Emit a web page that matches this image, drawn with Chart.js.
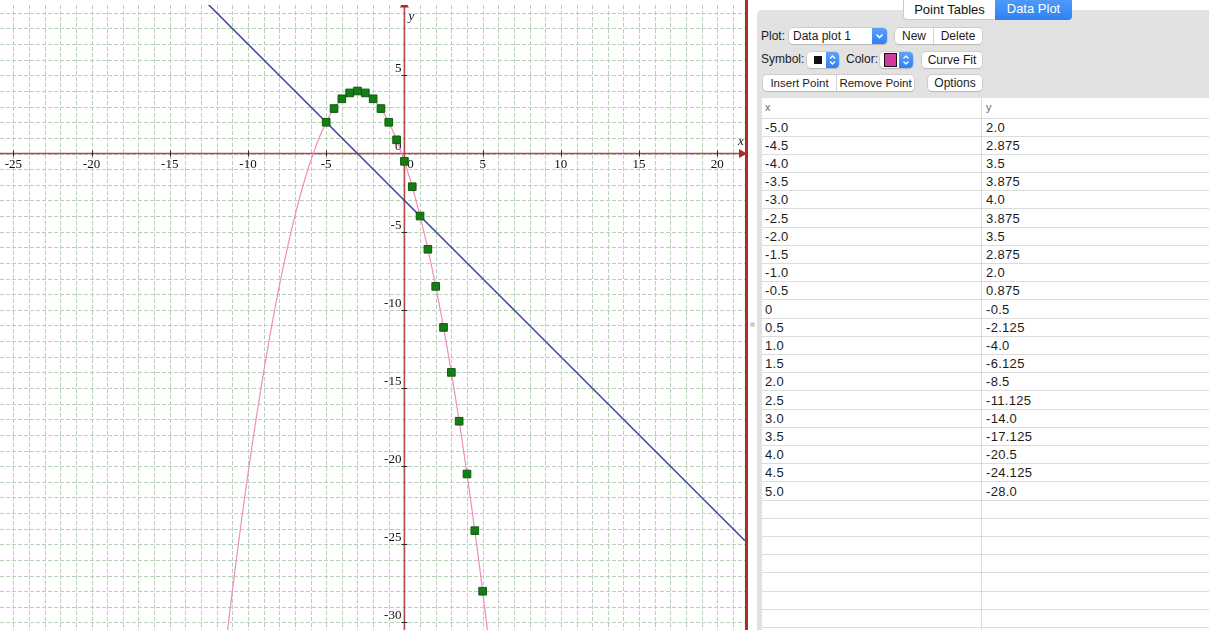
<!DOCTYPE html>
<html>
<head>
<meta charset="utf-8">
<script src="https://cdn.jsdelivr.net/npm/chart.js@4.4.1/dist/chart.umd.min.js"></script>
<style>
  html, body { margin: 0; padding: 0; background: #fff; width: 1209px; height: 630px; overflow: hidden;
    font-family: "Liberation Sans", Arial, sans-serif; color: #1c1c1c; }
  #plot { position: absolute; left: 0; top: 0; width: 745px; height: 630px; }
  #edge { position: absolute; left: 745px; top: 0; width: 3px; height: 630px; background: #a9302b; }
  #grip { position: absolute; left: 750px; top: 322px; width: 5px; height: 5px; border-radius: 50%; background: #cdcdcd; }
  #panel { position: absolute; left: 757px; top: 10px; width: 452px; height: 620px; background: #e2e2e2; border-top-left-radius: 5px; }
  .tab { position: absolute; top: 0; height: 20px; line-height: 20px; font-size: 13px; text-align: center; }
  #tabA { left: 903px; width: 91px; background: #fff; border: 1px solid #c9c9c9; border-top: none; border-bottom-left-radius: 4px; color: #111; height: 19px; line-height: 19px; }
  #tabB { left: 995px; width: 77px; background: linear-gradient(#4f9af8, #2f80f3); color: #fff; border-bottom-right-radius: 4px; line-height: 17px; }
  .lbl { position: absolute; font-size: 12px; height: 16px; line-height: 16px; color: #1c1c1c; }
  .btn { position: absolute; background: #fff; border-radius: 4px; height: 16px; line-height: 16px; font-size: 12px;
    box-shadow: 0 0 0 0.5px #b9b9b9, 0 1px 1px rgba(0,0,0,0.18); text-align: center; color: #1c1c1c; }
  .seg { position: absolute; top: 0; height: 16px; text-align: center; }
  .segdiv { position: absolute; top: 0; width: 1px; height: 16px; background: #d2d2d2; }
  .blue { position: absolute; top: 0; height: 16px; background: linear-gradient(#5da2f8, #2f80f3); border-top-right-radius: 4px; border-bottom-right-radius: 4px; }
  #table { position: absolute; left: 762px; top: 98px; width: 447px; height: 532px; background: #fff; overflow: hidden; }
  .row { position: absolute; left: 0; width: 447px; border-bottom: 1px solid #dcdcdc; box-sizing: border-box; font-size: 13px; letter-spacing: 0.3px; }
  .cx { position: absolute; left: 3px; }
  .cy { position: absolute; left: 224px; }
  #coldiv { position: absolute; left: 219px; top: 0; width: 1px; height: 532px; background: #dcdcdc; }
</style>
</head>
<body>
<div id="plot"><canvas id="c" width="745" height="630"></canvas></div>
<div id="edge"></div>
<div id="grip"></div>
<div id="panel"></div>
<div class="tab" id="tabA">Point Tables</div>
<div class="tab" id="tabB">Data Plot</div>

<div class="lbl" style="left:761px;top:28px;">Plot:</div>
<div class="btn" style="left:789px;top:28px;width:98px;text-align:left;">
  <span style="position:absolute;left:4px;">Data plot 1</span>
  <div class="blue" style="left:83px;width:15px;">
    <svg width="15" height="16" viewBox="0 0 15 16"><path d="M4.5 6.5 L7.5 9.5 L10.5 6.5" stroke="#fff" stroke-width="1.6" fill="none"/></svg>
  </div>
</div>
<div class="btn" style="left:895px;top:28px;width:87px;">
  <div class="seg" style="left:0;width:38px;">New</div>
  <div class="segdiv" style="left:38px;"></div>
  <div class="seg" style="left:39px;width:48px;">Delete</div>
</div>

<div class="lbl" style="left:761px;top:51px;">Symbol:</div>
<div class="btn" style="left:807px;top:52px;width:32px;">
  <div style="position:absolute;left:7px;top:4px;width:8px;height:8px;background:#111;"></div>
  <div class="blue" style="left:19px;width:13px;">
    <svg width="13" height="16" viewBox="0 0 13 16"><path d="M4 6.5 L6.5 4 L9 6.5 M4 9.5 L6.5 12 L9 9.5" stroke="#fff" stroke-width="1.3" fill="none"/></svg>
  </div>
</div>
<div class="lbl" style="left:846px;top:51px;">Color:</div>
<div class="btn" style="left:880px;top:52px;width:33px;">
  <div style="position:absolute;left:4px;top:1px;width:11px;height:12px;background:#d23a9c;border:1px solid #111;"></div>
  <div class="blue" style="left:19px;width:14px;">
    <svg width="14" height="16" viewBox="0 0 14 16"><path d="M4.5 6.5 L7 4 L9.5 6.5 M4.5 9.5 L7 12 L9.5 9.5" stroke="#fff" stroke-width="1.3" fill="none"/></svg>
  </div>
</div>
<div class="btn" style="left:922px;top:52px;width:60px;">Curve Fit</div>

<div class="btn" style="left:763px;top:75px;width:151px;font-size:11.5px;">
  <div class="seg" style="left:0;width:73px;">Insert Point</div>
  <div class="segdiv" style="left:73px;"></div>
  <div class="seg" style="left:74px;width:77px;">Remove Point</div>
</div>
<div class="btn" style="left:928px;top:75px;width:54px;">Options</div>

<div id="table"><div id="coldiv"></div></div>

<script>
// Data plot 1: the tabulated points
const pointX = [-5.0, -4.5, -4.0, -3.5, -3.0, -2.5, -2.0, -1.5, -1.0, -0.5, 0, 0.5, 1.0, 1.5, 2.0, 2.5, 3.0, 3.5, 4.0, 4.5, 5.0];
const pointY = [2.0, 2.875, 3.5, 3.875, 4.0, 3.875, 3.5, 2.875, 2.0, 0.875, -0.5, -2.125, -4.0, -6.125, -8.5, -11.125, -14.0, -17.125, -20.5, -24.125, -28.0];

// Straight line through two of the plotted points
const lineX = [-5, 1];
const lineY = [2, -4];

// Axis labels
const xTickLabels = [-25, -20, -15, -10, -5, 0, 5, 10, 15, 20];
const yTickLabels = [5, 0, -5, -10, -15, -20, -25, -30];

// Visible window of the graph
const xRange = [-25.85, 21.77];
const yRange = [-30.48, 9.50];

// Least-squares polynomial fit (Curve Fit)
function polyFit(xs, ys, deg) {
  const n = deg + 1;
  const A = Array.from({ length: n }, () => new Array(n + 1).fill(0));
  for (let k = 0; k < xs.length; k++) {
    for (let i = 0; i < n; i++) {
      for (let j = 0; j < n; j++) A[i][j] += Math.pow(xs[k], i + j);
      A[i][n] += ys[k] * Math.pow(xs[k], i);
    }
  }
  for (let i = 0; i < n; i++) {
    let p = i;
    for (let r = i + 1; r < n; r++) if (Math.abs(A[r][i]) > Math.abs(A[p][i])) p = r;
    [A[i], A[p]] = [A[p], A[i]];
    for (let r = 0; r < n; r++) {
      if (r === i) continue;
      const f = A[r][i] / A[i][i];
      for (let c = i; c <= n; c++) A[r][c] -= f * A[i][c];
    }
  }
  return A.map((row, i) => row[n] / row[i]);
}
const fit = polyFit(pointX, pointY, 2);
const evalFit = (v) => fit.reduce((s, c, i) => s + c * Math.pow(v, i), 0);

const axisRed = '#b24848';

const graphPaper = {
  id: 'graphPaper',
  beforeDatasetsDraw(chart) {
    const { ctx, chartArea: a, scales: { x, y } } = chart;
    ctx.save();
    ctx.beginPath();
    ctx.rect(a.left, a.top, a.right - a.left, a.bottom - a.top);
    ctx.clip();

    // dashed grid, one line per unit
    ctx.strokeStyle = '#b7d1b7';
    ctx.lineWidth = 1;
    ctx.setLineDash([4, 2]);
    for (let v = Math.ceil(x.min); v <= Math.floor(x.max); v++) {
      const px = Math.round(x.getPixelForValue(v)) + 0.5;
      ctx.beginPath(); ctx.moveTo(px, a.top); ctx.lineTo(px, a.bottom); ctx.stroke();
    }
    for (let v = Math.ceil(y.min); v <= Math.floor(y.max); v++) {
      const py = Math.round(y.getPixelForValue(v)) + 0.5;
      ctx.beginPath(); ctx.moveTo(a.left, py); ctx.lineTo(a.right, py); ctx.stroke();
    }
    ctx.setLineDash([]);

    const x0 = x.getPixelForValue(0);
    const y0 = y.getPixelForValue(0);

    // axes
    ctx.strokeStyle = axisRed;
    ctx.lineWidth = 1.6;
    ctx.beginPath(); ctx.moveTo(a.left, y0); ctx.lineTo(a.right - 6, y0); ctx.stroke();
    ctx.beginPath(); ctx.moveTo(x0, a.bottom); ctx.lineTo(x0, a.top); ctx.stroke();

    // arrow heads
    ctx.fillStyle = '#b0282a';
    ctx.beginPath();
    ctx.moveTo(a.right - 6, y0 - 4.5); ctx.lineTo(a.right + 2, y0); ctx.lineTo(a.right - 6, y0 + 4.5);
    ctx.closePath(); ctx.fill();
    ctx.beginPath();
    ctx.moveTo(x0 - 4.5, a.top + 2.5); ctx.lineTo(x0, a.top - 6); ctx.lineTo(x0 + 4.5, a.top + 2.5);
    ctx.closePath(); ctx.fill();

    // tick marks
    ctx.strokeStyle = '#2a2a2a';
    ctx.lineWidth = 1;
    xTickLabels.forEach(v => {
      if (v === 0) return;
      const px = Math.round(x.getPixelForValue(v)) + 0.5;
      ctx.beginPath(); ctx.moveTo(px, y0 - 3); ctx.lineTo(px, y0 + 3); ctx.stroke();
    });
    yTickLabels.forEach(v => {
      if (v === 0) return;
      const py = Math.round(y.getPixelForValue(v)) + 0.5;
      ctx.beginPath(); ctx.moveTo(x0 - 3, py); ctx.lineTo(x0 + 3, py); ctx.stroke();
    });

    // tick labels
    ctx.fillStyle = '#111';
    ctx.font = '13px "Liberation Serif", "DejaVu Serif", serif';
    ctx.textAlign = 'center';
    ctx.textBaseline = 'middle';
    xTickLabels.forEach(v => {
      const px = x.getPixelForValue(v) + (v === 0 ? 6 : 0);
      ctx.fillText(String(v), px, y0 + 11);
    });
    ctx.textAlign = 'right';
    yTickLabels.forEach(v => {
      ctx.fillText(String(v), x0 - 3, y.getPixelForValue(v) - 6.5);
    });

    // axis names
    ctx.font = 'italic 13px "Liberation Serif", "DejaVu Serif", serif';
    ctx.textAlign = 'center';
    ctx.fillText('x', a.right - 4, y0 - 12);
    ctx.fillText('y', x0 + 7, a.top + 12);

    // fitted parabola
    ctx.strokeStyle = '#f18dbd';
    ctx.lineWidth = 1.2;
    ctx.beginPath();
    for (let px = a.left; px <= a.right; px += 0.5) {
      const py = y.getPixelForValue(evalFit(x.getValueForPixel(px)));
      if (px === a.left) ctx.moveTo(px, py); else ctx.lineTo(px, py);
    }
    ctx.stroke();

    // straight line, extended across the window
    const slope = (lineY[1] - lineY[0]) / (lineX[1] - lineX[0]);
    const lineAt = (v) => lineY[0] + slope * (v - lineX[0]);
    ctx.strokeStyle = '#3a45a0';
    ctx.lineWidth = 1.5;
    ctx.beginPath();
    ctx.moveTo(x.getPixelForValue(x.min), y.getPixelForValue(lineAt(x.min)));
    ctx.lineTo(x.getPixelForValue(x.max), y.getPixelForValue(lineAt(x.max)));
    ctx.stroke();

    ctx.restore();
  }
};

new Chart(document.getElementById('c'), {
  type: 'scatter',
  data: {
    datasets: [{
      label: 'Data plot 1',
      data: pointX.map((v, i) => ({ x: v, y: pointY[i] })),
      pointStyle: 'rect',
      pointRadius: 5.4,
      backgroundColor: '#167c16',
      borderColor: '#0c5f0c',
      borderWidth: 1
    }]
  },
  options: {
    responsive: false,
    devicePixelRatio: 1,
    animation: false,
    events: [],
    layout: { autoPadding: false, padding: { top: 5, left: 0, right: 0, bottom: 0 } },
    plugins: { legend: { display: false }, tooltip: { enabled: false } },
    scales: {
      x: { type: 'linear', min: xRange[0], max: xRange[1], display: false },
      y: { type: 'linear', min: yRange[0], max: yRange[1], display: false }
    }
  },
  plugins: [graphPaper]
});

// Point table
const fmt = (v) => v === 0 ? '0' : (Number.isInteger(v) ? v.toFixed(1) : String(v));
const table = document.getElementById('table');
const headerH = 20.5, rowH = 18.2;
function addRow(top, h, a, b, cls) {
  const r = document.createElement('div');
  r.className = 'row';
  r.style.top = top + 'px';
  r.style.height = h + 'px';
  r.style.lineHeight = (h - 1) + 'px';
  if (cls) r.style.cssText += cls;
  r.innerHTML = '<span class="cx">' + a + '</span><span class="cy">' + b + '</span>';
  table.appendChild(r);
}
addRow(0, headerH, 'x', 'y', 'font-size:11px;color:#6a6a6a;letter-spacing:0;');
const nRows = Math.ceil((532 - headerH) / rowH);
for (let i = 0; i < nRows; i++) {
  const a = i < pointX.length ? fmt(pointX[i]) : '';
  const b = i < pointY.length ? fmt(pointY[i]) : '';
  addRow(headerH + i * rowH, rowH, a, b);
}
</script>
</body>
</html>
